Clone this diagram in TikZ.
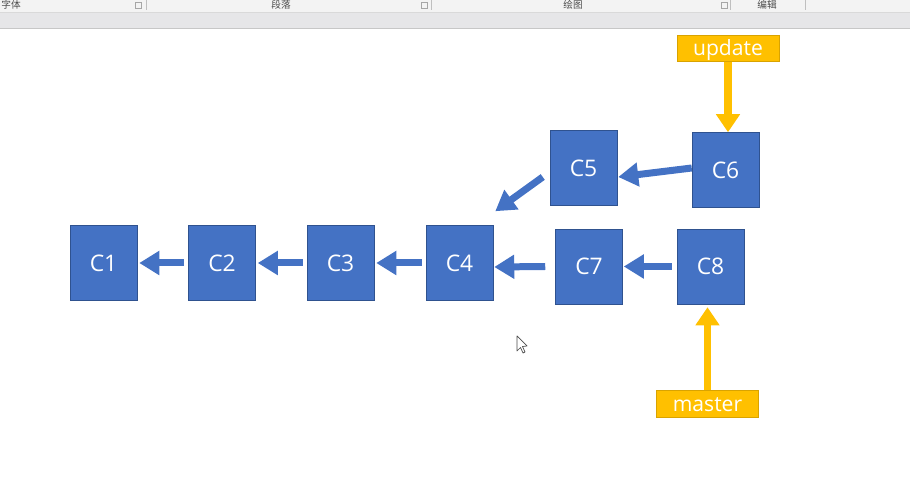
\documentclass[tikz,border=0pt]{standalone}
\usepackage{fontspec}
\setmainfont{Open Sans}
\newfontfamily\cjkfont{Noto Sans CJK SC}
\usepackage{tikz}
\usetikzlibrary{arrows.meta, positioning, calc}
\definecolor{commitblue}{RGB}{68, 114, 196}
\definecolor{commitedge}{RGB}{47, 82, 143}
\definecolor{branchgold}{RGB}{255, 192, 0}
\definecolor{ribbonbg}{RGB}{243, 243, 243}
\definecolor{ribbonband}{RGB}{230, 230, 232}

\begin{document}
\begin{tikzpicture}[x=0.02cm, y=-0.02cm,
    commit/.style={draw=commitedge, line width=0.3pt, fill=commitblue,
      minimum width=1.34cm, minimum height=1.5cm, inner sep=0pt,
      text=white, font=\fontsize{13}{15}\selectfont},
    branch/.style={draw=branchgold!85!black, line width=0.3pt, fill=branchgold,
      minimum width=2.04cm, minimum height=0.53cm, inner sep=0pt,
      text height=1.75ex, text depth=0.2ex,
      text=white, font=\fontsize{12}{14}\selectfont},
    parentarrow/.style={draw=commitblue, line width=0.14cm,
      -{Triangle[length=0.4cm, width=0.46cm]}},
    brancharrow/.style={draw=branchgold, line width=0.15cm,
      -{Triangle[length=0.36cm, width=0.46cm]}},
    ribbonlabel/.style={font=\cjkfont\fontsize{5.5}{6}\selectfont, text=black!70,
      inner sep=0pt}]
  \useasboundingbox (0,0) rectangle (910,479);

  % ribbon strip from the editor window
  \fill[ribbonbg] (0,0) rectangle (910,12);
  \fill[ribbonband] (0,12) rectangle (910,28);
  \draw[black!15] (0,12) -- (910,12);
  \draw[black!22] (0,28) -- (910,28);
  \node[ribbonlabel] (font) at (11,5) {字体};
  \node[ribbonlabel] (para) at (281,5) {段落};
  \node[ribbonlabel] (drawing) at (573,5) {绘图};
  \node[ribbonlabel] (edit) at (767,5) {编辑};
  \foreach \x in {138,424,724}
    \draw[black!35, line width=0.2pt] (\x-3,2) rectangle (\x+3,8);
  \foreach \x in {146,431,730,805}
    \draw[black!25] (\x,0) -- (\x,10);

  % commits
  \node[commit] (c1) at (103.5,263) {C1};
  \node[commit] (c2) at (222,263) {C2};
  \node[commit] (c3) at (340.5,263) {C3};
  \node[commit] (c4) at (459.5,263) {C4};
  \node[commit] (c5) at (583.5,168) {C5};
  \node[commit] (c6) at (725.5,170) {C6};
  \node[commit] (c7) at (589,266.5) {C7};
  \node[commit] (c8) at (710.5,266.5) {C8};

  % branch labels
  \node[branch] (update) at (728,48.5) {update};
  \node[branch] (master) at (707.5,404) {master};

  % parent links
  \draw[parentarrow] ($(c2.west)+(-4,0)$) -- ($(c1.east)+(2,0)$);
  \draw[parentarrow] ($(c3.west)+(-4,0)$) -- ($(c2.east)+(2,0)$);
  \draw[parentarrow] ($(c4.west)+(-4,0)$) -- ($(c3.east)+(2,0)$);
  \draw[parentarrow] ($(c7.west)+(-10,0)$) -- ($(c4.east)+(1,4)$);
  \draw[parentarrow] ($(c8.west)+(-5,0)$) -- ($(c7.east)+(1,0)$);
  \draw[parentarrow] ($(c6.west)+(0,-2)$) -- ($(c5.east)+(1,9)$);
  \coordinate (forkpoint) at ($(c4.north east)+(2,-14)$);
  \draw[parentarrow] ($(c5.west)+(-7,9)$) -- (forkpoint);

  % branch pointers
  \draw[brancharrow] (update.south) -- (c6.north -| update.south);
  \draw[brancharrow] (master.north) -- ($(c8.south -| master.north)+(0,3)$);

  % mouse pointer
  \draw[black!70, fill=white, line width=0.4pt, line join=round]
    (517,336) -- (517,351) -- (520.5,347.5) -- (523,353) -- (525,352)
    -- (522.5,346.5) -- (527,346) -- cycle;
\end{tikzpicture}
\end{document}
